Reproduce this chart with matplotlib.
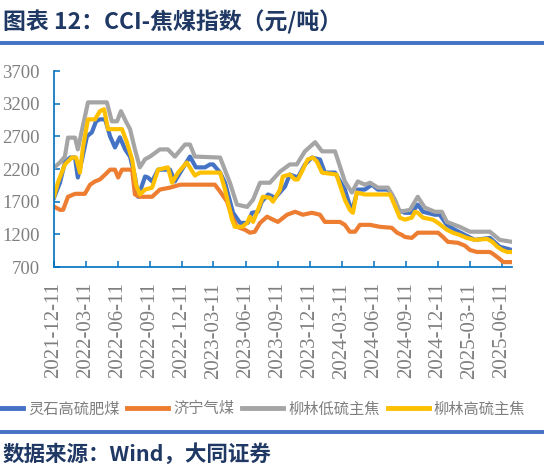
import numpy as np
import pandas as pd
import matplotlib
matplotlib.use("Agg")
import matplotlib.pyplot as plt
import matplotlib.dates as mdates
from matplotlib.lines import Line2D

plt.rcParams['font.family'] = ['Noto Sans CJK SC', 'DejaVu Sans']

# 灵石高硫肥煤
blue_dates = ["2021-12-11", "2021-12-28", "2022-01-11", "2022-01-26", "2022-02-09", "2022-02-17",
              "2022-03-01", "2022-03-15", "2022-03-29", "2022-04-10", "2022-04-21", "2022-05-06",
              "2022-05-20", "2022-06-03", "2022-06-17", "2022-07-02", "2022-07-16", "2022-07-30",
              "2022-08-08", "2022-08-28", "2022-09-05", "2022-09-17", "2022-10-04", "2022-11-07",
              "2022-11-21", "2022-12-06", "2023-01-03", "2023-01-20", "2023-02-15", "2023-03-01",
              "2023-03-10", "2023-03-30", "2023-04-13", "2023-05-06", "2023-05-26", "2023-06-17",
              "2023-06-29", "2023-07-16", "2023-07-27", "2023-08-14", "2023-09-03", "2023-10-01",
              "2023-10-15", "2023-11-07", "2023-11-27", "2023-12-17", "2024-01-09", "2024-01-23",
              "2024-02-21", "2024-03-20", "2024-04-09", "2024-04-26", "2024-05-16", "2024-06-05",
              "2024-06-22", "2024-07-21", "2024-08-01", "2024-08-18", "2024-09-07", "2024-09-27",
              "2024-10-14", "2024-10-29", "2024-12-02", "2024-12-16", "2025-01-05", "2025-01-28",
              "2025-02-26", "2025-03-26", "2025-05-08", "2025-06-05", "2025-07-10"]
blue_vals = [1760, 1990, 2300, 2375, 2375, 2070,
             2345, 2700, 2760, 2930, 2960, 2960,
             2700, 2530, 2685, 2500, 2390, 2085,
             1775, 2085, 2070, 2010, 2190, 2190,
             2010, 2145, 2390, 2225, 2225, 2270,
             2270, 2145, 1990, 1530, 1375, 1375,
             1530, 1545, 1700, 1810, 1760, 1930,
             2115, 2070, 2270, 2375, 2345, 2145,
             2145, 1885, 1545, 1885, 1885, 1960,
             1885, 1885, 1810, 1575, 1530, 1530,
             1655, 1545, 1500, 1500, 1345, 1270,
             1190, 1115, 1145, 1010, 960]

# 济宁气煤
orange_dates = ["2021-12-11", "2021-12-28", "2022-01-06", "2022-01-20", "2022-02-09", "2022-03-09",
                "2022-03-24", "2022-04-07", "2022-04-21", "2022-05-06", "2022-05-20", "2022-06-03",
                "2022-06-12", "2022-06-23", "2022-07-22", "2022-07-30", "2022-08-13", "2022-09-17",
                "2022-10-09", "2022-11-07", "2022-12-06", "2022-12-25", "2023-03-15", "2023-03-30",
                "2023-04-19", "2023-05-03", "2023-05-17", "2023-06-09", "2023-06-23", "2023-07-07",
                "2023-07-22", "2023-08-11", "2023-08-28", "2023-09-11", "2023-10-07", "2023-10-30",
                "2023-11-07", "2023-11-21", "2023-12-17", "2024-01-09", "2024-01-23", "2024-03-06",
                "2024-03-20", "2024-04-03", "2024-04-18", "2024-05-02", "2024-05-31", "2024-06-28",
                "2024-08-01", "2024-08-16", "2024-08-30", "2024-09-07", "2024-09-27", "2024-10-14",
                "2024-11-09", "2024-12-11", "2024-12-25", "2025-01-08", "2025-02-06", "2025-02-26",
                "2025-03-12", "2025-04-01", "2025-05-08", "2025-05-17", "2025-06-01", "2025-06-15",
                "2025-07-10"]
orange_vals = [1625, 1575, 1575, 1775, 1820, 1820,
               1960, 2010, 2040, 2115, 2190, 2190,
               2070, 2190, 2190, 1810, 1775, 1775,
               1885, 1915, 1960, 1960, 1960, 1855,
               1700, 1470, 1315, 1270, 1225, 1240,
               1375, 1470, 1425, 1390, 1500, 1545,
               1530, 1500, 1530, 1500, 1390, 1390,
               1345, 1240, 1240, 1345, 1345, 1315,
               1300, 1225, 1190, 1160, 1145, 1225,
               1225, 1225, 1160, 1085, 1070, 1025,
               960, 930, 930, 900, 840, 775,
               775]

# 柳林低硫主焦
gray_dates = ["2021-12-11", "2021-12-28", "2022-01-11", "2022-01-20", "2022-02-09", "2022-02-17",
              "2022-03-01", "2022-03-18", "2022-05-11", "2022-05-25", "2022-06-09", "2022-06-20",
              "2022-07-04", "2022-07-16", "2022-07-30", "2022-08-13", "2022-08-28", "2022-09-11",
              "2022-10-09", "2022-11-01", "2022-11-21", "2022-12-20", "2023-01-03", "2023-01-17",
              "2023-03-30", "2023-04-27", "2023-05-17", "2023-06-15", "2023-07-02", "2023-07-22",
              "2023-08-19", "2023-09-17", "2023-10-15", "2023-11-04", "2023-11-27", "2023-12-26",
              "2024-01-15", "2024-02-21", "2024-03-20", "2024-04-09", "2024-04-26", "2024-05-16",
              "2024-05-31", "2024-06-22", "2024-07-21", "2024-08-10", "2024-08-24", "2024-09-22",
              "2024-10-14", "2024-11-03", "2024-12-02", "2024-12-22", "2025-01-05", "2025-02-11",
              "2025-03-12", "2025-05-08", "2025-06-05", "2025-07-10"]
gray_vals = [2220, 2300, 2390, 2680, 2680, 2500,
             2800, 3220, 3220, 2930, 2930, 3085,
             2930, 2810, 2500, 2225, 2350, 2390,
             2500, 2500, 2390, 2575, 2575, 2390,
             2375, 1990, 1655, 1620, 1730, 1990,
             1990, 2160, 2270, 2270, 2470, 2610,
             2470, 2470, 2010, 1840, 2010, 1960,
             1990, 1915, 1915, 1730, 1545, 1575,
             1775, 1610, 1545, 1545, 1390, 1315,
             1240, 1240, 1115, 1085]

# 柳林高硫主焦
yellow_dates = ["2021-12-11", "2021-12-22", "2022-01-11", "2022-01-31", "2022-02-12", "2022-02-23",
                "2022-03-04", "2022-03-18", "2022-04-07", "2022-04-21", "2022-05-03", "2022-05-14",
                "2022-06-23", "2022-07-07", "2022-07-22", "2022-08-02", "2022-08-13", "2022-08-28",
                "2022-09-17", "2022-10-04", "2022-11-01", "2022-11-13", "2022-11-30", "2022-12-25",
                "2023-01-17", "2023-02-01", "2023-03-30", "2023-04-13", "2023-05-03", "2023-05-11",
                "2023-06-01", "2023-06-15", "2023-06-23", "2023-07-02", "2023-07-16", "2023-07-30",
                "2023-08-19", "2023-08-28", "2023-09-17", "2023-09-25", "2023-10-15", "2023-10-29",
                "2023-11-07", "2023-11-21", "2023-12-05", "2023-12-20", "2023-12-31", "2024-01-15",
                "2024-02-25", "2024-03-20", "2024-04-03", "2024-04-12", "2024-04-23", "2024-05-16",
                "2024-07-27", "2024-08-24", "2024-09-07", "2024-09-27", "2024-10-06", "2024-10-14",
                "2024-10-29", "2024-11-26", "2024-12-11", "2025-01-05", "2025-01-22", "2025-02-11",
                "2025-03-03", "2025-03-26", "2025-04-30", "2025-05-15", "2025-05-29", "2025-06-12",
                "2025-06-26", "2025-07-10"]
yellow_vals = [1775, 1990, 2270, 2375, 2375, 2145,
               2545, 2960, 2960, 3085, 3115, 2810,
               2810, 2610, 2345, 1960, 1810, 1885,
               1915, 2190, 2225, 1990, 2145, 2300,
               2100, 2145, 2145, 1885, 1425, 1315,
               1315, 1375, 1470, 1390, 1575, 1775,
               1760, 1700, 1885, 2085, 2115, 2040,
               2040, 2190, 2345, 2375, 2315, 2145,
               2115, 1730, 1575, 1530, 1840, 1810,
               1810, 1455, 1425, 1455, 1545, 1530,
               1455, 1425, 1375, 1270, 1225, 1190,
               1145, 1115, 1130, 1085, 1010, 960,
               930, 930]

series_names = ["灵石高硫肥煤", "济宁气煤", "柳林低硫主焦", "柳林高硫主焦"]
series_colors = ["#4472C4", "#ED7D31", "#A5A5A5", "#FFC000"]
y_ticks = [700, 1200, 1700, 2200, 2700, 3200, 3700]

navy = "#1F3864"
axis_blue = "#0070C0"
label_gray = "#7F7F7F"

fig = plt.figure(figsize=(5.44, 4.67), dpi=100)
ax = fig.add_axes([54 / 544, 200 / 467, 458 / 544, 196 / 467])

all_series = [(blue_dates, blue_vals), (orange_dates, orange_vals),
              (gray_dates, gray_vals), (yellow_dates, yellow_vals)]
handles = []
for (d, v), name, c in zip(all_series, series_names, series_colors):
    ax.plot(pd.to_datetime(d), v, color=c, lw=3.0, solid_joinstyle="round", label=name)
    handles.append(Line2D([], [], color=c, lw=3.5))

ax.set_ylim(700, 3700)
ax.set_yticks(y_ticks)
ax.set_xlim(pd.Timestamp("2021-12-11"), pd.Timestamp("2025-07-10"))
ax.xaxis.set_major_locator(mdates.MonthLocator(bymonth=[3, 6, 9, 12], bymonthday=11))
ax.xaxis.set_major_formatter(mdates.DateFormatter("%Y-%m-%d"))

for s in ["top", "right"]:
    ax.spines[s].set_visible(False)
for s in ["left", "bottom"]:
    ax.spines[s].set_color(axis_blue)
    ax.spines[s].set_linewidth(1.2)

# y labels kept fully inside the canvas (the reference crops the first digit)
ax.tick_params(axis="y", direction="in", length=4, color=axis_blue, width=1.1,
               labelcolor=label_gray, pad=10.5)
ax.tick_params(axis="x", direction="in", length=4, color=axis_blue, width=1.1,
               labelcolor=label_gray, pad=11)
for lab in ax.get_yticklabels():
    lab.set_fontfamily("Liberation Serif")
    lab.set_fontsize(13.5)
for lab in ax.get_xticklabels():
    lab.set_fontfamily("Liberation Serif")
    lab.set_fontsize(15)
    lab.set_rotation(90)
    lab.set_va("top")
    lab.set_ha("center")

leg = fig.legend(handles, series_names, loc="center", bbox_to_anchor=(253.5 / 544, 58 / 467),
                 ncol=4, frameon=False, prop={"family": "Noto Sans CJK SC", "size": 11},
                 handlelength=2.7, handletextpad=0.33, columnspacing=0.5, borderpad=0,
                 borderaxespad=0)
for t in leg.get_texts():
    t.set_color(label_gray)

# title, rules and source
fig.text(3 / 544, 1 - 22 / 467, "图表 12：CCI-焦煤指数（元/吨）", fontsize=16.5,
         color=navy, ha="left", va="center", fontweight="bold")
fig.add_artist(Line2D([0, 1], [1 - 43 / 467, 1 - 43 / 467], color="#4472C4", lw=2.8,
                      transform=fig.transFigure))
fig.add_artist(Line2D([0, 1], [1 - 432 / 467, 1 - 432 / 467], color="#4472C4", lw=2.8,
                      transform=fig.transFigure))
fig.text(3 / 544, 1 - 454 / 467, "数据来源：Wind，大同证券", fontsize=15.5,
         color=navy, ha="left", va="center", fontweight="bold")

fig.savefig("out.png", dpi=100)
